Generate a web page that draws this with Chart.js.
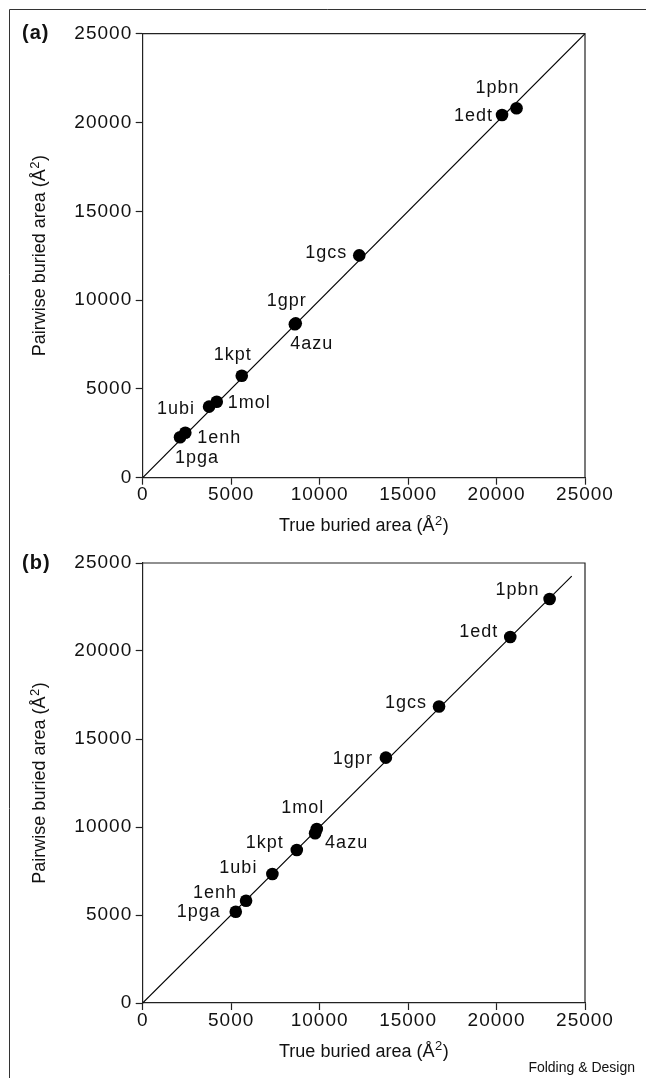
<!DOCTYPE html>
<html><head><meta charset="utf-8">
<script src="https://cdn.jsdelivr.net/npm/chart.js@4.4.1/dist/chart.umd.min.js"></script>
<style>
html,body{margin:0;padding:0;background:#fff;}
#wrap{position:relative;width:646px;height:1078px;overflow:hidden;}
canvas{position:absolute;left:0;}
</style></head><body>
<div id="wrap">
<canvas id="ca" width="646" height="539" style="top:0px"></canvas>
<canvas id="cb" width="646" height="539" style="top:539px"></canvas>
</div>
<script>
// ---- data ----
const tickValues = [0, 5000, 10000, 15000, 20000, 25000];
const tickLabels = ['0', '5000', '10000', '15000', '20000', '25000'];

const namesA = ['1pga', '1enh', '1ubi', '1mol', '1kpt', '1gpr', '4azu', '1gcs', '1edt', '1pbn'];
const trueA  = [2110, 2410, 3750, 4185, 5600, 8650, 8600, 12240, 20310, 21130];
const pairA  = [2275, 2535, 4000, 4280, 5743, 8690, 8640, 12518, 20420, 20800];
const diagA  = [0, 25000];

const namesB = ['1pga', '1enh', '1ubi', '1kpt', '1mol', '4azu', '1gpr', '1gcs', '1edt', '1pbn'];
const trueB  = [5260, 5843, 7330, 8710, 9840, 9745, 13745, 16750, 20775, 23000];
const pairB  = [5188, 5812, 7330, 8693, 9886, 9642, 13940, 16850, 20795, 22955];
const diagB  = [0, 24250];

const xTitleParts = ['True buried area (Å', '2', ')'];
const yTitleParts = ['Pairwise buried area (Å', '2', ')'];
const panelA = '(a)';
const panelB = '(b)';
const credit = 'Folding & Design';

// ---- label placement (align, dx, dy in px relative to the point) ----
const placeA = [
  ['center', 17, 21], ['left', 12, 5], ['right', -14, 2], ['left', 11, 1], ['center', -9, -21],
  ['center', -9, -22], ['center', 17, 20], ['right', -12, -2], ['right', -9, 1], ['center', -19, -20]
];
const placeB = [
  ['right', -15, 0], ['right', -9, -8], ['right', -15, -6], ['right', -13, -7], ['center', -14, -21],
  ['left', 10, 10], ['right', -13, 1], ['right', -12, -3], ['right', -12, -5], ['right', -10, -9]
];

const FAM = '"Liberation Sans", Arial, Helvetica, sans-serif';
const INK = '#111';

function drawSupTitle(ctx, parts, cx, cy) {
  const big = '18px ' + FAM, small = '13px ' + FAM;
  ctx.font = big; const w0 = ctx.measureText(parts[0]).width; const w2 = ctx.measureText(parts[2]).width;
  ctx.font = small; const w1 = ctx.measureText(parts[1]).width;
  let x = cx - (w0 + w1 + w2 + 1) / 2;
  ctx.textAlign = 'left';
  ctx.textBaseline = 'middle';
  ctx.font = big; ctx.fillText(parts[0], x, cy); x += w0 + 0.5;
  ctx.font = small; ctx.fillText(parts[1], x, cy - 5); x += w1 + 0.5;
  ctx.font = big; ctx.fillText(parts[2], x, cy);
}

function makeChart(id, names, xs, ys, diag, place, cfg) {
  const pts = xs.map((x, i) => ({x: x, y: ys[i]}));
  const line = diag.map(v => ({x: v, y: v}));
  const deco = {
    id: 'deco',
    beforeDraw(chart) { chart.ctx.letterSpacing = '1px'; },
    afterDatasetsDraw(chart) {
      const ctx = chart.ctx;
      const meta = chart.getDatasetMeta(0);
      ctx.save();
      ctx.letterSpacing = '1px';
      ctx.font = '18px ' + FAM;
      ctx.fillStyle = INK;
      ctx.textBaseline = 'middle';
      meta.data.forEach((el, i) => {
        const p = place[i];
        ctx.textAlign = p[0];
        ctx.fillText(names[i], el.x + p[1], el.y + p[2]);
      });
      ctx.restore();
    },
    afterDraw(chart) {
      const ctx = chart.ctx;
      const a = chart.chartArea;
      ctx.save();
      ctx.strokeStyle = '#222';
      ctx.lineWidth = 1.2;
      ctx.beginPath();
      ctx.moveTo(a.left, a.top);
      ctx.lineTo(a.right, a.top);
      ctx.lineTo(a.right, a.bottom);
      ctx.stroke();
      // outer frame
      ctx.strokeStyle = '#333';
      ctx.lineWidth = 1;
      ctx.beginPath();
      if (cfg.first) {
        ctx.moveTo(9.5, chart.height);
        ctx.lineTo(9.5, 9.5);
        ctx.lineTo(chart.width, 9.5);
      } else {
        ctx.moveTo(9.5, 0);
        ctx.lineTo(9.5, chart.height);
      }
      ctx.stroke();
      ctx.letterSpacing = '0px';
      ctx.fillStyle = INK;
      // axis titles
      drawSupTitle(ctx, xTitleParts, (a.left + a.right) / 2, cfg.xTitleY);
      ctx.save();
      ctx.translate(40, (a.top + a.bottom) / 2);
      ctx.rotate(-Math.PI / 2);
      drawSupTitle(ctx, yTitleParts, 0, 0);
      ctx.restore();
      // panel label
      ctx.font = 'bold 20px ' + FAM;
      ctx.textAlign = 'left';
      ctx.textBaseline = 'middle';
      ctx.letterSpacing = '1px';
      ctx.fillText(cfg.panel, 22, a.top);
      ctx.letterSpacing = '0px';
      if (cfg.credit) {
        ctx.font = '14px ' + FAM;
        ctx.textAlign = 'right';
        ctx.fillText(cfg.credit, 635, cfg.creditY);
      }
      ctx.restore();
    }
  };
  const axisCommon = (isX) => ({
    type: 'linear',
    min: 0, max: 25000,
    afterBuildTicks: s => { s.ticks = tickValues.map(v => ({value: v})); },
    ticks: {
      callback: v => tickLabels[tickValues.indexOf(v)],
      font: {family: FAM, size: 19, lineHeight: 1},
      color: INK,
      padding: isX ? 1 : 3.5,
      maxRotation: 0,
      autoSkip: false
    },
    grid: {display: true, drawOnChartArea: false, drawTicks: true, tickLength: 7, tickColor: '#222', tickWidth: 1.2},
    border: {display: true, color: '#222', width: 1.2},
    title: {display: false}
  });
  const xs_ = axisCommon(true);
  xs_.position = 'bottom';
  xs_.afterFit = s => { s.height = cfg.xH; };
  const ys_ = axisCommon(false);
  ys_.position = 'left';
  ys_.afterFit = s => { s.width = 142.7; };
  return new Chart(document.getElementById(id), {
    type: 'scatter',
    data: {
      datasets: [
        {data: pts, backgroundColor: '#000', borderWidth: 0, pointRadius: 6.3, pointHoverRadius: 6.3},
        {type: 'line', data: line, borderColor: '#000', borderWidth: 1.1, pointRadius: 0, showLine: true, fill: false}
      ]
    },
    options: {
      responsive: false,
      devicePixelRatio: 1,
      animation: false,
      events: [],
      layout: {padding: {left: 0, right: 61, top: cfg.top, bottom: 0}},
      plugins: {legend: {display: false}, tooltip: {enabled: false}},
      scales: {x: xs_, y: ys_}
    },
    plugins: [deco]
  });
}

makeChart('ca', namesA, trueA, pairA, diagA, placeA,
  {first: true, top: 33.7, xH: 61.3, xTitleY: 526, panel: panelA});
makeChart('cb', namesB, trueB, pairB, diagB, placeB,
  {first: false, top: 24, xH: 75, xTitleY: 512.7, panel: panelB, credit: credit, creditY: 529});
</script>
</body></html>
